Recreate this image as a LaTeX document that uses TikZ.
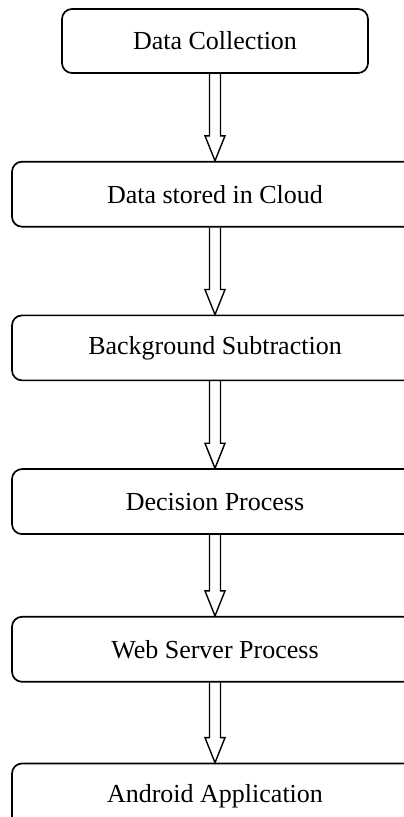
\documentclass[tikz,border=0pt]{standalone}
\usepackage{fontspec}
\setmainfont{Liberation Serif}
\usetikzlibrary{positioning}

\tikzset{
  stage/.style={draw, line width=1.7pt, rounded corners=10pt, minimum width=406pt,
    minimum height=65pt, font=\fontsize{26}{30}\selectfont},
  flowarrow/.style={line width=1.4pt, to path={
    ([xshift=-5.5pt]\tikztostart.south) -- ([xshift=-5.5pt, yshift=25pt]\tikztotarget.north)
    -- ([xshift=-10pt, yshift=25pt]\tikztotarget.north) -- (\tikztotarget.north)
    -- ([xshift=10pt, yshift=25pt]\tikztotarget.north) -- ([xshift=5.5pt, yshift=25pt]\tikztotarget.north)
    -- ([xshift=5.5pt]\tikztostart.south)}}
}

\begin{document}
\begin{tikzpicture}[x=1pt, y=1pt]
	\useasboundingbox (0,0) rectangle (404,817);
	\clip (0,0) rectangle (404,817);

	\node[stage, minimum width=306pt, minimum height=64pt] (collect) at (215,776) {Data Collection};
	\node[stage, below=87pt of collect] (cloud) {Data stored in Cloud};
	\node[stage, below=87pt of cloud] (subtract) {Background Subtraction};
	\node[stage, below=87pt of subtract] (decide) {Decision Process};
	\node[stage, below=81pt of decide] (webserver) {Web Server Process};
	\node[stage, below=80pt of webserver] (android) {Android Application};

	\draw[flowarrow] (collect) to (cloud);
	\draw[flowarrow] (cloud) to (subtract);
	\draw[flowarrow] (subtract) to (decide);
	\draw[flowarrow] (decide) to (webserver);
	\draw[flowarrow] (webserver) to (android);

\end{tikzpicture}
\end{document}
